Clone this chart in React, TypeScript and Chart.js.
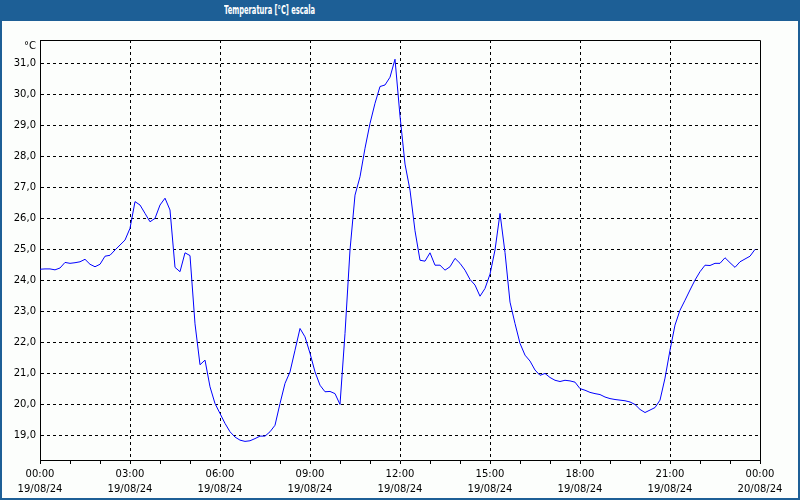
import React, { useEffect, useRef } from "react";
import { Chart, registerables } from "chart.js";

Chart.register(...registerables);

// Temperature readings every 10 minutes, 19/08/24 00:00 -> 23:50
const stepMinutes = 10;
const temperatures: number[] = [
  24.36, 24.37, 24.37, 24.34, 24.40, 24.58, 24.55, 24.57, 24.60, 24.68,
  24.52, 24.44, 24.52, 24.78, 24.81, 24.98, 25.14, 25.30, 25.68, 26.54,
  26.43, 26.16, 25.89, 26.00, 26.43, 26.65, 26.27, 24.42, 24.28, 24.89,
  24.80, 22.60, 21.28, 21.43, 20.57, 20.03, 19.71, 19.39, 19.12, 18.95,
  18.85, 18.81, 18.83, 18.90, 18.98, 18.98, 19.12, 19.33, 20.03, 20.68,
  21.05, 21.75, 22.45, 22.18, 21.65, 21.05, 20.62, 20.41, 20.42, 20.35,
  20.00, 22.29, 24.98, 26.75, 27.34, 28.26, 29.06, 29.71, 30.25, 30.30,
  30.55, 31.13, 29.30, 27.75, 26.91, 25.60, 24.65, 24.62, 24.89, 24.49,
  24.49, 24.33, 24.44, 24.71, 24.55, 24.33, 24.03, 23.85, 23.49, 23.74,
  24.20, 24.98, 26.16, 24.90, 23.30, 22.61, 21.97, 21.59, 21.40, 21.11,
  20.94, 21.00, 20.87, 20.78, 20.74, 20.78, 20.76, 20.72, 20.51, 20.46,
  20.39, 20.35, 20.32, 20.24, 20.19, 20.16, 20.14, 20.12, 20.08, 20.00,
  19.84, 19.74, 19.82, 19.90, 20.14, 20.85, 21.75, 22.56, 23.04, 23.36,
  23.69, 24.01, 24.28, 24.49, 24.48, 24.55, 24.55, 24.73, 24.57, 24.42,
  24.60, 24.69, 24.78, 25.00,
];

const xTickTimes = ["00:00", "03:00", "06:00", "09:00", "12:00", "15:00", "18:00", "21:00", "00:00"];
const xTickDates = ["19/08/24", "19/08/24", "19/08/24", "19/08/24", "19/08/24", "19/08/24", "19/08/24", "19/08/24", "20/08/24"];

const titleText = "Temperatura [°C] escala";
const unitText = "°C";
const yMin = 18.21;
const yMax = 31.75;

const FONT = "'DejaVu Sans', 'Liberation Sans', sans-serif";
const BLUE = "#1d5f96";
const TITLE_WIDTH = 91;

export default function App() {
  const canvasRef = useRef<HTMLCanvasElement | null>(null);
  const titleRef = useRef<HTMLSpanElement | null>(null);

  useEffect(() => {
    if (titleRef.current) {
      const w = titleRef.current.offsetWidth;
      if (w > 0) titleRef.current.style.transform = `scaleX(${TITLE_WIDTH / w})`;
    }
  }, []);

  useEffect(() => {
    if (!canvasRef.current) return;
    const points = temperatures.map((v, i) => ({ x: (i * stepMinutes) / 60, y: v }));

    const framePlugin = {
      id: "frame",
      afterDraw(chart: any) {
        const { ctx, chartArea } = chart;
        ctx.save();
        ctx.strokeStyle = "#000";
        ctx.lineWidth = 1;
        ctx.setLineDash([]);
        const l = Math.round(chartArea.left) + 0.5;
        const r = Math.round(chartArea.right) + 0.5;
        const t = Math.round(chartArea.top) + 0.5;
        const b = Math.round(chartArea.bottom) + 0.5;
        ctx.beginPath();
        ctx.moveTo(l, t);
        ctx.lineTo(r, t);
        ctx.lineTo(r, b);
        ctx.stroke();
        ctx.fillStyle = "#000";
        ctx.font = `10px ${FONT}`;
        ctx.textAlign = "right";
        ctx.textBaseline = "middle";
        ctx.fillText(unitText, chartArea.left - 4, chartArea.top + 6);
        ctx.restore();
      },
    };

    const chart = new Chart(canvasRef.current, {
      type: "line",
      data: {
        datasets: [
          {
            data: points,
            borderColor: "#0000ff",
            borderWidth: 1,
            pointRadius: 0,
            tension: 0,
            fill: false,
          },
        ],
      },
      options: {
        animation: false,
        responsive: false,
        devicePixelRatio: 1,
        layout: { padding: { top: 40, right: 40, left: 0, bottom: 0 } },
        plugins: { legend: { display: false }, tooltip: { enabled: false }, title: { display: false } },
        scales: {
          x: {
            type: "linear",
            min: 0,
            max: 24,
            afterFit: (s: any) => {
              s.height = 40;
            },
            ticks: {
              stepSize: 1,
              autoSkip: false,
              maxRotation: 0,
              minRotation: 0,
              padding: 3,
              color: "#000",
              font: { family: FONT, size: 10, lineHeight: 1.5 },
              callback: (v: any) => {
                const n = Number(v);
                if (n % 3 !== 0) return "";
                const k = n / 3;
                return [xTickTimes[k], xTickDates[k]];
              },
            },
            grid: {
              color: (c: any) => {
                const v = c.tick ? c.tick.value : -1;
                return v % 3 === 0 && v !== 0 && v !== 24 ? "#000" : "rgba(0,0,0,0)";
              },
              lineWidth: 1,
              drawTicks: true,
              tickLength: 4,
              tickColor: "#000",
              tickWidth: 1,
            },
            border: { display: true, color: "#000", width: 1, dash: [3, 3] },
          },
          y: {
            type: "linear",
            min: yMin,
            max: yMax,
            afterFit: (s: any) => {
              s.width = 40;
            },
            ticks: {
              stepSize: 1,
              includeBounds: false,
              padding: 4,
              color: "#000",
              font: { family: FONT, size: 10 },
              callback: (v: any) => Number(v).toFixed(1).replace(".", ","),
            },
            grid: {
              color: "#000",
              lineWidth: 1,
              drawTicks: false,
            },
            border: { display: true, color: "#000", width: 1, dash: [3, 3] },
          },
        },
      },
      plugins: [framePlugin],
    });
    return () => chart.destroy();
  }, []);

  return (
    <div
      style={{
        position: "fixed",
        left: 0,
        top: 0,
        width: 800,
        height: 500,
        background: "#fcfefc",
        overflow: "hidden",
      }}
    >
      <canvas ref={canvasRef} width={800} height={500} style={{ position: "absolute", left: 0, top: 0, display: "block" }} />
      <div style={{ position: "absolute", left: 0, top: 0, width: 800, height: 21, background: BLUE }} />
      <div
        style={{
          position: "absolute",
          left: 0,
          top: 0,
          width: 540,
          height: 20,
          lineHeight: "20px",
          textAlign: "center",
          color: "#fff",
          fontFamily: "'DejaVu Sans', sans-serif",
          fontWeight: "bold",
          fontSize: 12,
        }}
      >
        <span ref={titleRef} style={{ display: "inline-block", whiteSpace: "nowrap", transformOrigin: "50% 50%" }}>
          {titleText}
        </span>
      </div>
      <div style={{ position: "absolute", left: 0, top: 20, width: 2, height: 480, background: BLUE }} />
      <div style={{ position: "absolute", right: 0, top: 20, width: 2, height: 480, background: BLUE }} />
      <div style={{ position: "absolute", left: 0, bottom: 0, width: 800, height: 2, background: BLUE }} />
    </div>
  );
}
